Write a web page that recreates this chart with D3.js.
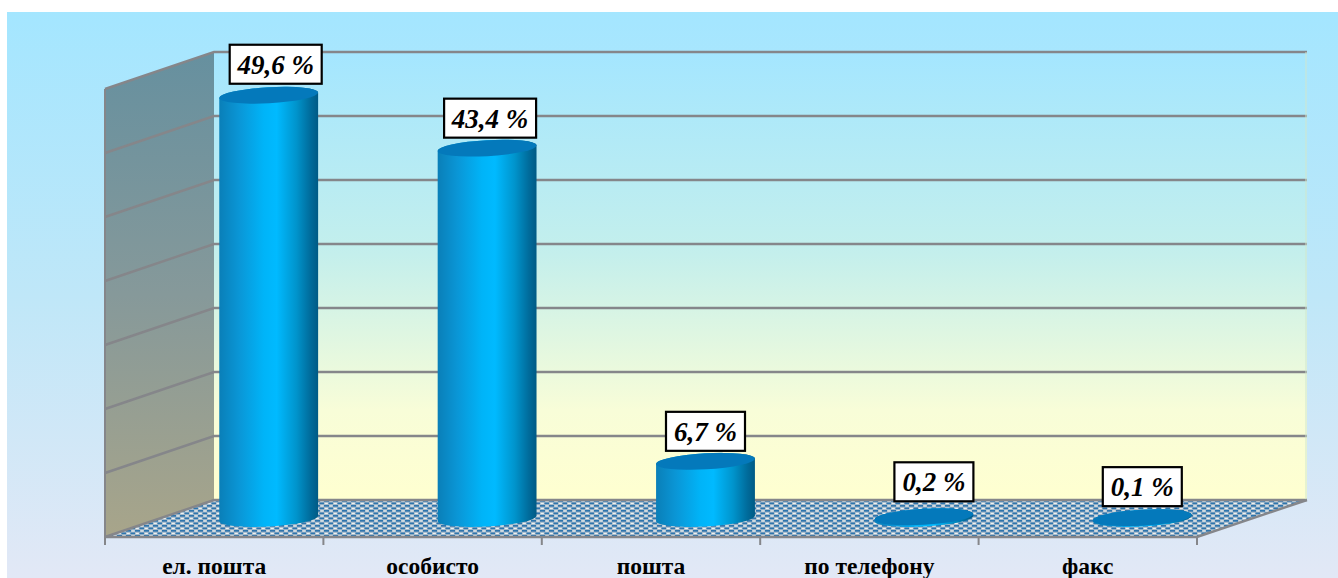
<!DOCTYPE html>
<html>
<head>
<meta charset="utf-8">
<script src="https://cdn.jsdelivr.net/npm/d3@7"></script>
<style>
  html, body { margin: 0; padding: 0; background: #fff; overflow: hidden; }
  svg { display: block; }
  .label-text { font: italic bold 27px "Liberation Serif", serif; fill: #000; text-anchor: middle; }
  .axis-x text { font: bold 23.5px "Liberation Serif", serif; fill: #000; }
</style>
</head>
<body>
<svg id="chart" width="1338" height="578"></svg>
<script>
const categories = ['ел. пошта', 'особисто', 'пошта', 'по телефону', 'факс'];
const values = [49.6, 43.4, 6.7, 0.2, 0.1];
const valueLabels = ['49,6 %', '43,4 %', '6,7 %', '0,2 %', '0,1 %'];
const gridValues = [0, 7.5, 15, 22.5, 30, 37.5, 45, 52.5];

const WIDTH = 1338, HEIGHT = 578;
const front = { left: 105, right: 1197, bottom: 537 };
const depth = { x: 109, y: -37 };
const plotHeight = 448;
const barWidth = 99;
const tilt = 3.2; // the ellipses lean a little, degrees
const ellipseRy = 8;

// labels were placed by hand in the original, so each one has its own nudge
const labelNudge = [[7, -31], [3, -30], [0, -30], [10, -35], [0, -31]];

const x = d3.scaleBand().domain(categories).range([front.left, front.right]);
const y = d3.scaleLinear().domain([0, 52.5]).range([0, plotHeight]);

const svg = d3.select('#chart');
const defs = svg.append('defs');

function gradient(id, stops, vertical) {
    const g = defs.append('linearGradient').attr('id', id)
        .attr('x1', 0).attr('y1', 0)
        .attr('x2', vertical ? 0 : 1).attr('y2', vertical ? 1 : 0);
    stops.forEach(s => g.append('stop').attr('offset', s[0]).attr('stop-color', s[1]));
}

gradient('bg', [[0, '#a4e6ff'], [0.5, '#bfe7f8'], [1, '#e2e8f6']], true);
gradient('wall', [[0, '#a4e6ff'], [0.45, '#c4efec'], [0.8, '#f8fdd8'], [1, '#ffffd0']], true);
gradient('side', [[0, '#66909f'], [0.5, '#86999a'], [1, '#a8a58a']], true);
gradient('cyl', [[0, '#0a7fb8'], [0.2, '#0a96d6'], [0.45, '#00b4f8'], [0.58, '#00baff'],
    [0.78, '#0094cc'], [0.92, '#006c9c'], [1, '#005a85']], false);

// floor weave
const weave = defs.append('pattern').attr('id', 'weave')
    .attr('width', 9).attr('height', 5).attr('patternUnits', 'userSpaceOnUse');
weave.append('rect').attr('width', 9).attr('height', 5).attr('fill', '#a9bccb');
weave.append('rect').attr('x', 0).attr('y', 0).attr('width', 5).attr('height', 1.7).attr('fill', '#2f75ad');
weave.append('rect').attr('x', 4.5).attr('y', 2.5).attr('width', 5).attr('height', 1.7).attr('fill', '#2f75ad');
weave.append('rect').attr('x', 5.5).attr('y', 0.4).attr('width', 3).attr('height', 1.1).attr('fill', '#eef2f2');
weave.append('rect').attr('x', 0.8).attr('y', 2.9).attr('width', 3).attr('height', 1.1).attr('fill', '#eef2f2');

defs.append('filter').attr('id', 'soft')
    .append('feGaussianBlur').attr('stdDeviation', 0.3);

svg.append('rect').attr('x', 7).attr('y', 12)
    .attr('width', WIDTH - 7).attr('height', HEIGHT - 12).attr('fill', 'url(#bg)');

const backLeft = front.left + depth.x;
const backRight = front.right + depth.x + 1;
const backBottom = front.bottom + depth.y;
const backTop = backBottom - plotHeight;
const line = d3.line();

// back wall, side wall, floor
svg.append('rect').attr('x', backLeft).attr('y', backTop)
    .attr('width', backRight - backLeft).attr('height', plotHeight).attr('fill', 'url(#wall)');
svg.append('path')
    .attr('d', line([[front.left, front.bottom - plotHeight], [backLeft, backTop], [backLeft, backBottom], [front.left, front.bottom]]) + 'Z')
    .attr('fill', 'url(#side)');
svg.append('path')
    .attr('d', line([[front.left, front.bottom], [backLeft, backBottom], [backRight, backBottom], [front.right, front.bottom]]) + 'Z')
    .attr('fill', 'url(#weave)').attr('filter', 'url(#soft)');

// gridlines run along the back wall and down the side wall
const grid = svg.append('g').attr('class', 'grid')
    .attr('fill', 'none').attr('stroke', '#85868a');
grid.selectAll('path').data(gridValues).join('path')
    .attr('stroke-width', 2.4)
    .attr('d', d => line([
        [front.left, front.bottom - y(d)],
        [backLeft, backBottom - y(d)],
        [backRight, backBottom - y(d)]
    ]));
grid.append('path').attr('stroke-width', 2)
    .attr('d', line([[front.left, front.bottom + 8], [front.left, front.bottom - plotHeight]]));
grid.append('path').attr('stroke-width', 1).attr('stroke', '#cfe6cf')
    .attr('d', line([[backRight - 1, backTop], [backRight - 1, backBottom]]));
grid.append('path').attr('stroke-width', 2.4)
    .attr('d', line([[backRight, backBottom], [front.right, front.bottom], [front.left, front.bottom]]));
grid.selectAll('.tick-mark').data(d3.range(1, categories.length + 1)).join('path')
    .attr('class', 'tick-mark').attr('stroke-width', 2)
    .attr('d', i => line([[front.left + i * x.step(), front.bottom], [front.left + i * x.step(), front.bottom + 8]]));

// cylinders stand in the middle of the depth
const baseY = front.bottom + depth.y / 2;
const cx = d => x(d) + x.bandwidth() / 2 + depth.x / 2;
const rx = barWidth / 2;
const sin = Math.sin(tilt * Math.PI / 180), cos = Math.cos(tilt * Math.PI / 180);

function cylinderPath(c, top, bottom) {
    const lx = c - rx * cos, rxx = c + rx * cos;
    return `M${lx},${top + rx * sin} L${lx},${bottom + rx * sin}` +
        ` A${rx},${ellipseRy} ${-tilt} 0 0 ${rxx},${bottom - rx * sin}` +
        ` L${rxx},${top - rx * sin}` +
        ` A${rx},${ellipseRy} ${-tilt} 0 0 ${lx},${top + rx * sin}Z`;
}

const bars = svg.append('g').selectAll('g').data(categories).join('g');
bars.append('path')
    .attr('fill', 'url(#cyl)')
    .attr('d', (d, i) => cylinderPath(cx(d), baseY - y(values[i]), baseY));
bars.append('ellipse')
    .attr('rx', rx).attr('ry', ellipseRy)
    .attr('fill', '#0479bb')
    .attr('transform', (d, i) => `translate(${cx(d)},${baseY - y(values[i])}) rotate(${-tilt})`);

// value labels
const boxH = 39;
const labels = svg.append('g').selectAll('g').data(categories).join('g')
    .attr('transform', (d, i) => `translate(${cx(d) + labelNudge[i][0]},${baseY - y(values[i]) + labelNudge[i][1]})`);
labels.append('rect')
    .attr('x', (d, i) => i < 2 ? -46 : -39.5)
    .attr('width', (d, i) => i < 2 ? 92 : 79)
    .attr('y', -boxH / 2).attr('height', boxH)
    .attr('fill', '#fff').attr('stroke', '#000').attr('stroke-width', 2.2);
labels.append('text').attr('class', 'label-text').attr('y', 9.5)
    .text((d, i) => valueLabels[i]);

// category labels
const axis = d3.axisBottom(x).tickSize(0).tickPadding(0);
const axisG = svg.append('g').attr('class', 'axis-x')
    .attr('transform', `translate(0,${front.bottom + 20})`).call(axis);
axisG.select('.domain').remove();
</script>
</body>
</html>
